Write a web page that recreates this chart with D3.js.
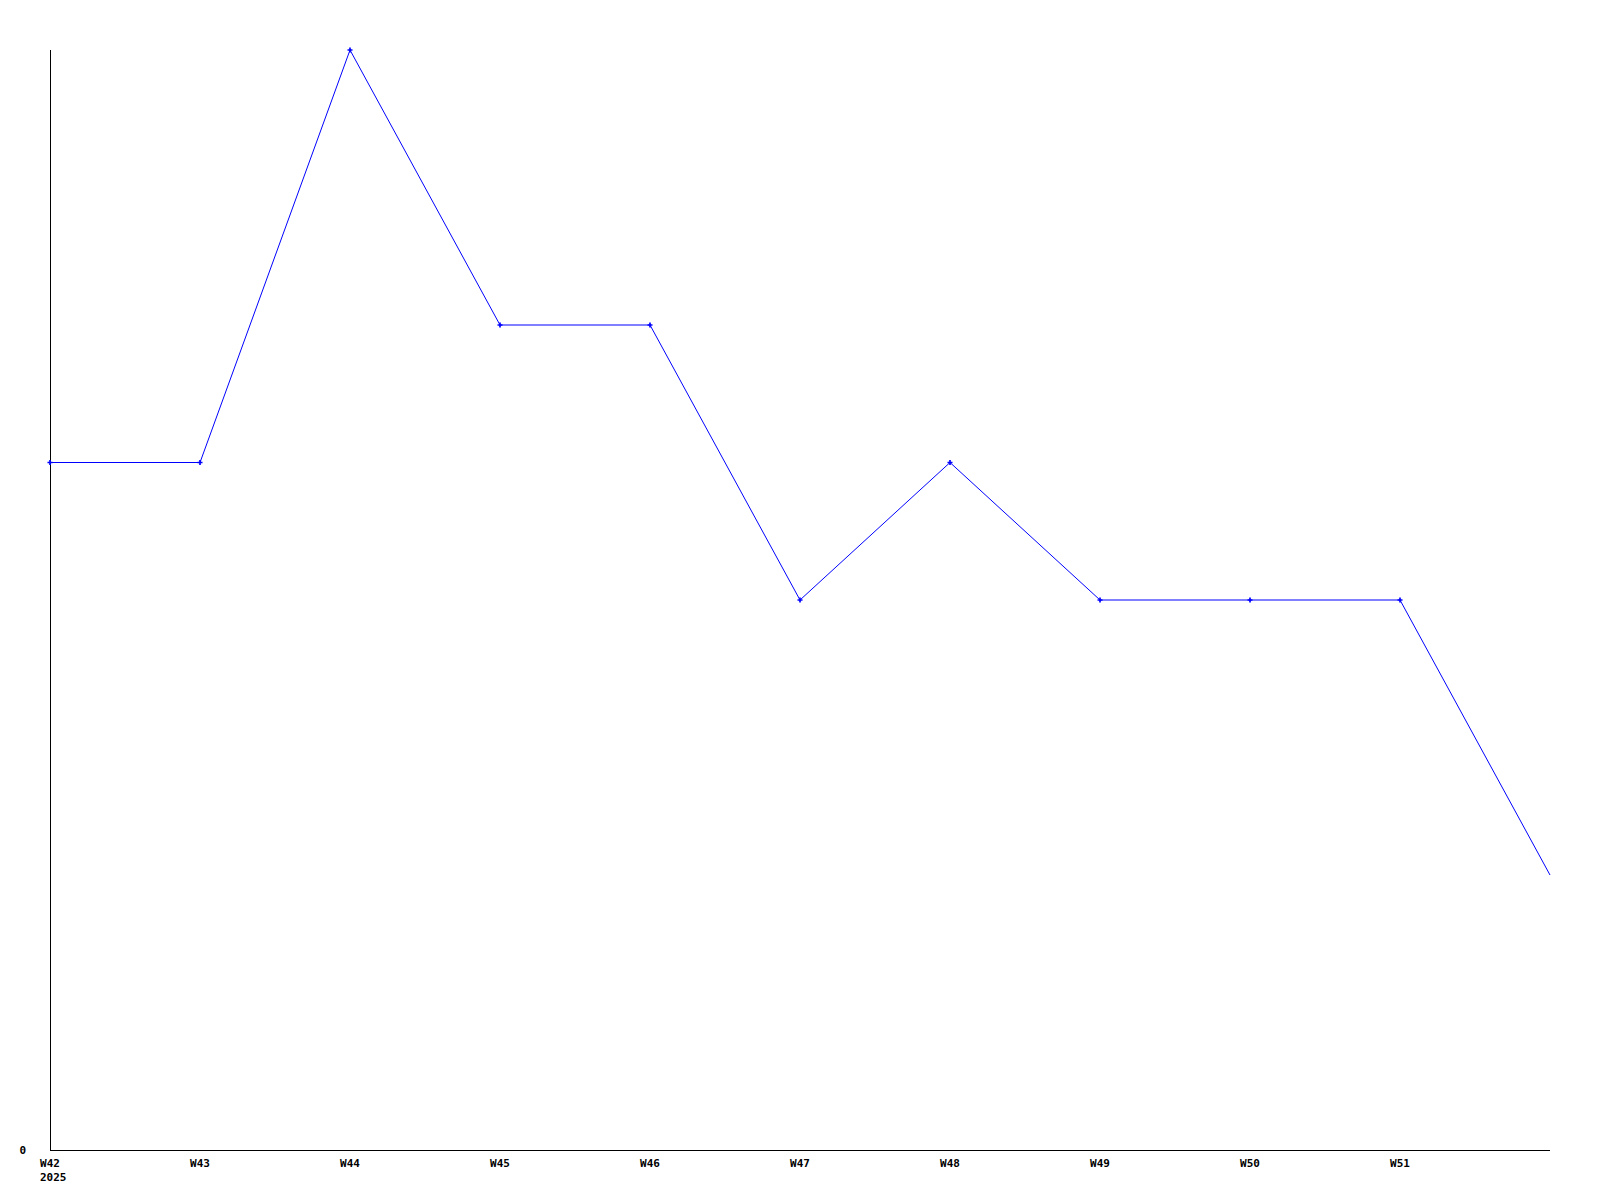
<!DOCTYPE html>
<html><head><meta charset="utf-8">
<script src="https://cdn.jsdelivr.net/npm/d3@7"></script>
<style>body{margin:0;background:#fff}svg{display:block}</style>
</head><body>
<script>
const weeks = ["W42","W43","W44","W45","W46","W47","W48","W49","W50","W51","W52"];
const tickLabels = ["W42","W43","W44","W45","W46","W47","W48","W49","W50","W51"];
const values = [5,5,8,6,6,4,5,4,4,4,2];
const yearLabel = "2025";
const yTicks = [0];

const W = 1600, H = 1200;
const svg = d3.select("body").append("svg").attr("width", W).attr("height", H);
const x = d3.scalePoint().domain(weeks).range([50, 1550]);
const y = d3.scaleLinear().domain([0, 8]).range([1150, 50]);
const font = "'DejaVu Sans Mono', 'Liberation Mono', monospace";

// axes lines
svg.append("line").attr("x1", 50.5).attr("x2", 50.5).attr("y1", 50).attr("y2", 1150.5)
  .attr("stroke", "#000").attr("stroke-width", 1);
svg.append("line").attr("x1", 50).attr("x2", 1550).attr("y1", 1150.5).attr("y2", 1150.5)
  .attr("stroke", "#000").attr("stroke-width", 1);

// y tick labels
svg.selectAll("text.yt").data(yTicks).enter().append("text")
  .attr("x", 26).attr("y", d => y(d) + 4).attr("text-anchor", "end")
  .attr("font-family", font).attr("font-weight", "bold").attr("font-size", 11).text(d => d);

// x tick labels
svg.selectAll("text.xt").data(tickLabels).enter().append("text")
  .attr("x", d => x(d)).attr("y", 1167).attr("text-anchor", "middle")
  .attr("font-family", font).attr("font-weight", "bold").attr("font-size", 11).text(d => d);
svg.append("text").attr("x", x(weeks[0]) - 10).attr("y", 1181)
  .attr("font-family", font).attr("font-weight", "bold").attr("font-size", 11).text(yearLabel);

// line
const line = d3.line().x((d, i) => x(weeks[i])).y(d => y(d));
svg.append("path").datum(values).attr("d", line).attr("fill", "none")
  .attr("stroke", "#0000ff").attr("stroke-width", 1);

// markers (exclude last)
const sym = d3.symbol().type(d3.symbolCross).size(14);
svg.selectAll("path.m").data(values.slice(0, values.length - 1)).enter().append("path")
  .attr("transform", (d, i) => `translate(${x(weeks[i])},${y(d)})`)
  .attr("d", sym).attr("fill", "#0000ff");
</script>
</body></html>
